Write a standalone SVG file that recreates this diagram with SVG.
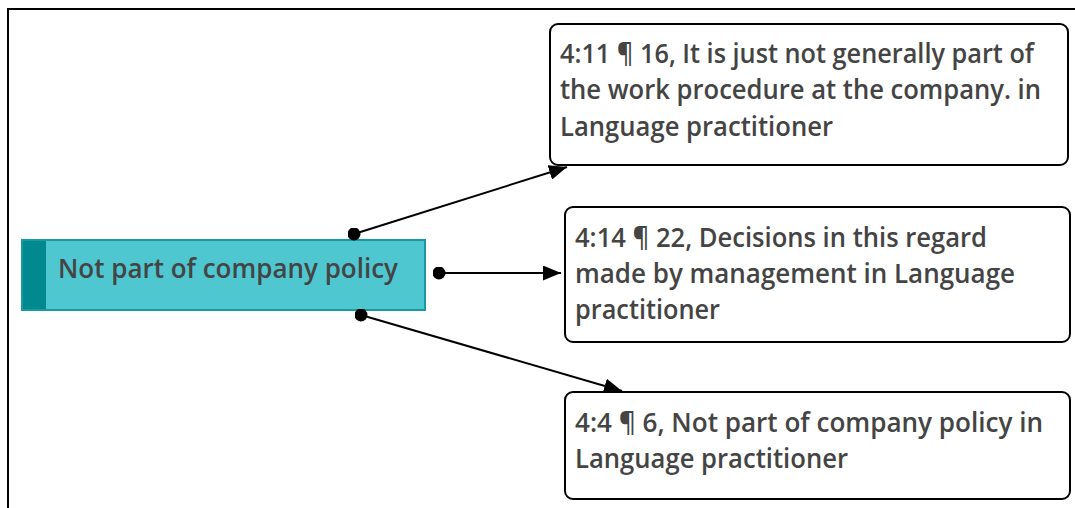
<svg xmlns="http://www.w3.org/2000/svg" width="1075" height="508" viewBox="0 0 1075 508">
  <defs>
    <marker id="arrow" viewBox="0 0 10 10" refX="10" refY="5" markerWidth="18" markerHeight="15" markerUnits="userSpaceOnUse" orient="auto" preserveAspectRatio="none">
      <path d="M0,0 L10,5 L0,10 Z" fill="#000"/>
    </marker>
    <marker id="dot" viewBox="0 0 10 10" refX="5" refY="5" markerWidth="13" markerHeight="13" markerUnits="userSpaceOnUse">
      <circle cx="5" cy="5" r="5" fill="#000"/>
    </marker>
    <style>
      .txt { font-family: "Open Sans", "Noto Sans", "Liberation Sans", sans-serif; font-weight: 600; font-size: 27.5px; fill: #444444; }
      .quote { fill: #ffffff; stroke: #000000; stroke-width: 2; }
      .edge { fill: none; stroke: #000000; stroke-width: 2; marker-start: url(#dot); marker-end: url(#arrow); }
    </style>
  </defs>
  <rect width="1075" height="508" fill="#ffffff"/>
  <!-- outer frame, open to the right and bottom -->
  <rect x="8" y="9" width="1100" height="560" fill="none" stroke="#000" stroke-width="2"/>

  <!-- code node -->
  <g id="code-not-part-of-company-policy">
    <rect x="22" y="240" width="403" height="70" fill="#4fc7d1" stroke="#1a9aa0" stroke-width="2"/>
    <rect x="23" y="241" width="23" height="68" fill="#00898f"/>
    <text class="txt" x="58" y="278" textLength="340" lengthAdjust="spacingAndGlyphs">Not part of company policy</text>
  </g>

  <!-- quotation nodes -->
  <g id="quote-4-11">
    <rect class="quote" x="550" y="24" width="518" height="141" rx="8"/>
    <text class="txt" x="560" y="63" textLength="474" lengthAdjust="spacingAndGlyphs">4:11 ¶ 16, It is just not generally part of</text>
    <text class="txt" x="560" y="99" textLength="481" lengthAdjust="spacingAndGlyphs">the work procedure at the company. in</text>
    <text class="txt" x="560" y="136" textLength="273" lengthAdjust="spacingAndGlyphs">Language practitioner</text>
  </g>

  <g id="quote-4-14">
    <rect class="quote" x="565" y="207" width="505" height="135" rx="8"/>
    <text class="txt" x="575" y="247" textLength="412" lengthAdjust="spacingAndGlyphs">4:14 ¶ 22, Decisions in this regard</text>
    <text class="txt" x="575" y="283" textLength="440" lengthAdjust="spacingAndGlyphs">made by management in Language</text>
    <text class="txt" x="575" y="319" textLength="145" lengthAdjust="spacingAndGlyphs">practitioner</text>
  </g>

  <g id="quote-4-4">
    <rect class="quote" x="565" y="392" width="505" height="107" rx="8"/>
    <text class="txt" x="575" y="432" textLength="468" lengthAdjust="spacingAndGlyphs">4:4 ¶ 6, Not part of company policy in</text>
    <text class="txt" x="575" y="468" textLength="273" lengthAdjust="spacingAndGlyphs">Language practitioner</text>
  </g>

  <g id="connectors">
    <line class="edge" x1="354" y1="234" x2="567" y2="167"/>
    <line class="edge" x1="439" y1="273" x2="561" y2="273"/>
    <line class="edge" x1="361" y1="315" x2="622" y2="391"/>
  </g>
</svg>
